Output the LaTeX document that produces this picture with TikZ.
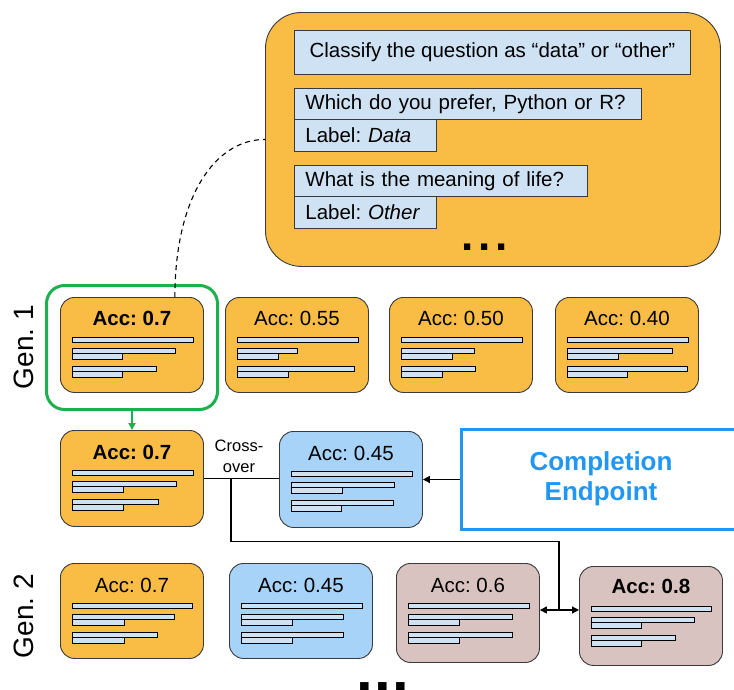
\documentclass[tikz,border=0pt]{standalone}
\usepackage{fontspec}
\setmainfont{Liberation Sans}
\usetikzlibrary{arrows.meta}
\definecolor{orangefill}{HTML}{F9BC45}
\definecolor{barfill}{HTML}{CFE2F3}
\definecolor{bluefill}{HTML}{A8D3F8}
\definecolor{rosefill}{HTML}{D9C3C0}
\definecolor{edge}{HTML}{3A3A3A}
\definecolor{selgreen}{HTML}{1DB04E}
\definecolor{cblue}{HTML}{2196F3}
\newcommand\drawbars[6]{%
  \begin{scope}[shift={(#1.north west)}]
    \draw[bar] (12,40) rectangle ++(#2,5.5);
    \draw[bar] (12,51) rectangle ++(#3,5.5);
    \draw[bar] (12,56.5) rectangle ++(#4,5.5);
    \draw[bar] (12,69) rectangle ++(#5,5.5);
    \draw[bar] (12,74.5) rectangle ++(#6,5.5);
  \end{scope}}
\frenchspacing
\begin{document}
\begin{tikzpicture}[x=1pt,y=-1pt,
  box/.style={draw=edge, line width=0.9pt, rounded corners=14pt, anchor=north west, minimum width=143pt, minimum height=95pt, inner sep=0pt},
  obox/.style={box, fill=orangefill},
  bbox/.style={box, fill=bluefill},
  rbox/.style={box, fill=rosefill},
  acc/.style={anchor=base, inner sep=0pt, font=\fontsize{20.5}{24}\selectfont},
  accb/.style={anchor=base, inner sep=0pt, font=\fontsize{20.5}{24}\selectfont\bfseries},
  bar/.style={draw=black, fill=barfill, line width=0.8pt},
  qbox/.style={draw=edge, fill=barfill, line width=0.8pt, anchor=north west, inner xsep=11pt, inner ysep=0pt, align=left, font=\fontsize{20.5}{24}\selectfont},
  link/.style={draw=black, line width=1.2pt},
  tip/.style={-{Triangle[length=7pt,width=7pt]}}
]
\clip (0,0) rectangle (734,689);
\fill[white] (0,0) rectangle (734,689);

% prompt box
\node[draw=edge, fill=orangefill, line width=0.9pt, rounded corners=36pt, anchor=north west, minimum width=455pt, minimum height=254pt, inner sep=0pt] (prompt) at (265,12) {};
\node[qbox, align=center, minimum width=396pt, minimum height=44pt] (q0) at (294,30) {Classify the question as “data” or “other”};
\node[qbox, text width=325pt, minimum height=31pt] (q1) at (294,88) {Which do you prefer, Python or R?};
\node[qbox, text width=120pt, minimum height=32pt] (q2) at (294,119) {Label: \textit{Data}};
\node[qbox, text width=271pt, minimum height=31pt] (q3) at (294,165) {What is the meaning of life?};
\node[qbox, text width=120pt, minimum height=32pt] (q4) at (294,196) {Label: \textit{Other}};
\node[anchor=base west, inner sep=0pt, font=\fontsize{44}{44}\selectfont\bfseries] (dots1) at (461,250) {.\kern4.8pt.\kern4.8pt.};

% generation 1
\node[obox] (g11) at (60,297) {};
\node[obox] (g12) at (225,297) {};
\node[obox] (g13) at (389,297) {};
\node[obox] (g14) at (555,297) {};
\node[accb] (t11) at ([yshift=-28pt]g11.north) {Acc: 0.7};
\node[acc] (t12) at ([yshift=-28pt]g12.north) {Acc: 0.55};
\node[acc] (t13) at ([yshift=-28pt]g13.north) {Acc: 0.50};
\node[acc] (t14) at ([yshift=-28pt]g14.north) {Acc: 0.40};
\drawbars{g11}{121}{103}{50}{84}{50}
\drawbars{g12}{121}{60}{41}{117}{51}
\drawbars{g13}{121}{73}{51}{74}{41}
\drawbars{g14}{121}{105}{51}{120}{60}
\node[draw=selgreen, line width=3pt, rounded corners=18pt, anchor=north west, minimum width=171pt, minimum height=124pt, inner sep=0pt] (sel) at (45,284) {};
\node[rotate=90, inner sep=0pt, font=\fontsize{28}{32}\selectfont] (gen1) at (24,347) {Gen. 1};

% middle row
\node[obox, minimum height=96pt] (ma) at (60,430) {};
\node[bbox, minimum height=96pt] (mb) at (279,431) {};
\node[accb] (tma) at ([yshift=-29pt]ma.north) {Acc: 0.7};
\node[acc] (tmb) at ([yshift=-29pt]mb.north) {Acc: 0.45};
\drawbars{ma}{121}{104}{51}{86}{51}
\drawbars{mb}{121}{103}{51}{102}{50}
\node[align=center, inner sep=0pt, font=\fontsize{16.5}{21}\selectfont] (xlab) at (239,456) {Cross-\\over};
\node[draw=cblue, line width=3pt, anchor=north west, minimum width=300pt, minimum height=100pt, inner sep=0pt] (ce) at (460,428) {};
\node[align=center, inner sep=0pt, text=cblue, font=\fontsize{26}{30}\selectfont\bfseries] (cetext) at (601,479) {Completion\\Endpoint};

% generation 2
\node[obox] (g21) at (60,563) {};
\node[bbox] (g22) at (229,563) {};
\node[rbox, minimum height=99pt] (g23) at (396,563) {};
\node[rbox, minimum height=99pt] (g24) at (579,566) {};
\node[acc] (t21) at ([yshift=-29pt]g21.north) {Acc: 0.7};
\node[acc] (t22) at ([yshift=-29pt]g22.north) {Acc: 0.45};
\node[acc] (t23) at ([yshift=-29pt]g23.north) {Acc: 0.6};
\node[accb] (t24) at ([yshift=-27pt]g24.north) {Acc: 0.8};
\drawbars{g21}{120}{102}{52}{85}{52}
\drawbars{g22}{121}{102}{51}{102}{51}
\begin{scope}[yshift=-3pt]
\drawbars{g23}{121}{104}{51}{104}{51}
\end{scope}
\drawbars{g24}{120}{103}{50}{84}{50}
\node[rotate=90, inner sep=0pt, font=\fontsize{28}{32}\selectfont] (gen2) at (24,616) {Gen. 2};
\node[anchor=base west, inner sep=0pt, font=\fontsize{60}{60}\selectfont\bfseries] (dots2) at (356.5,691.5) {.\kern1.3pt.\kern1.3pt.};

% connectors
\draw[black, line width=1.1pt, dash pattern=on 5pt off 4pt] ([xshift=-29pt]g11.north east) .. controls +(0,-100) and +(-50,0) .. (prompt.west);
\draw[selgreen, line width=2.2pt, tip] (sel.south) -- (sel.south |- ma.north);
\draw[link] (ma.east) -- (ma.east -| mb.west);
\coordinate (xo) at ([xshift=27pt]ma.east);
\coordinate (sw) at (559,610);
\draw[link] (xo) -- ++(0,63) -| (sw);
\draw[link, {Triangle[length=7pt,width=7pt]}-{Triangle[length=7pt,width=7pt]}] (g23.east |- sw) -- (g24.west |- sw);
\draw[link, tip] (ce.west |- mb.east) -- (mb.east);
\end{tikzpicture}
\end{document}
